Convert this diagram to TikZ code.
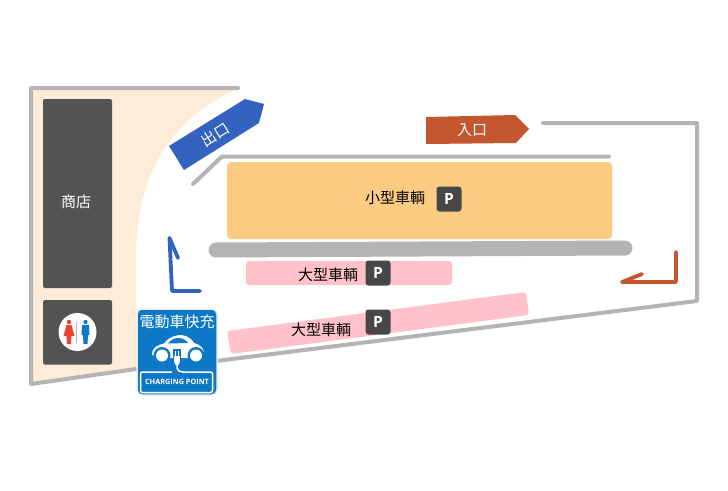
\documentclass[tikz,border=0pt]{standalone}
\usepackage{fontspec}
\setmainfont{Noto Sans CJK JP}
\newfontfamily\latinf{Open Sans}
\definecolor{wallgray}{HTML}{B4B4B4}
\definecolor{shopfill}{HTML}{FDECD8}
\definecolor{darkbox}{HTML}{535353}
\definecolor{orangelot}{HTML}{FACB80}
\definecolor{pinklot}{HTML}{FFC2CB}
\definecolor{exitblue}{HTML}{3463BF}
\definecolor{entryred}{HTML}{C4562F}
\definecolor{pbox}{HTML}{474747}
\definecolor{evblue}{HTML}{0D79C6}
\definecolor{womanred}{HTML}{EA4335}
\tikzset{
  x=1pt,y=-1pt,
  wall/.style={draw=wallgray,line width=4pt,line cap=round,line join=round},
  dark/.style={fill=darkbox,rounded corners=2pt},
  lbl/.style={font=\fontsize{15}{15}\selectfont,inner sep=0pt,text=black},
  wlbl/.style={font=\fontsize{15}{15}\selectfont,inner sep=0pt,text=white},
  pmark/.style={fill=pbox,rounded corners=3pt,minimum size=25pt,inner sep=0pt,text=white,font=\latinf\bfseries\fontsize{15.5}{15.5}\selectfont},
  bluearrow/.style={draw=exitblue,line width=3.8pt,line cap=round,line join=round},
  redarrow/.style={draw=entryred,line width=3.8pt,line cap=round,line join=round},
}
\begin{document}
\begin{tikzpicture}
\useasboundingbox (0,0) rectangle (728,490);
\fill[white] (0,0) rectangle (728,490);
% site fill
\fill[shopfill] (31,88) -- (238,88) .. controls (205,105) and (135,140) .. (136,260) -- (136,368) -- (31,384) -- cycle;
\draw[wall] (238,88) -- (31,88) -- (31,384) -- (136,369);
\draw[wall] (216,361) -- (697,301) -- (697,123) -- (543,123);
\draw[wall] (193,184) -- (222,156.5) -- (609,156.5);
\draw[draw=wallgray,line width=15pt,line cap=round] (216,250) -- (625,248);
% lots
\node[dark,minimum width=69pt,minimum height=189pt,inner sep=0pt] (shop) at (77.5,193.5) {};
\node[wlbl] (shoplbl) at (76,202) {商店};
\node[dark,minimum width=69pt,minimum height=64.5pt,inner sep=0pt] (wc) at (77.5,332.3) {};
\fill[orangelot,rounded corners=4pt] (227,162) rectangle (612,239);
\fill[pinklot,rounded corners=3pt] (246,261) rectangle (452,285);
\fill[pinklot,rounded corners=3pt] (227,331) -- (526,292) -- (529,315) -- (231,354) -- cycle;
% labels
\node[lbl] (small) at (395,198) {小型車輌};
\node[pmark] (p1) at (449,199) {P};
\node[lbl] (big1) at (328,275) {大型車輌};
\node[pmark] (p2) at (378,273) {P};
\node[lbl] (big2) at (321,330) {大型車輌};
\node[pmark] (p3) at (378,322) {P};
% exit
\fill[exitblue] (169,146) -- (245,99) -- (264,104) -- (259,123) -- (184,170) -- cycle;
\node[wlbl,rotate=32] (exit) at (215,135) {出口};
% entry
\fill[entryred] (426,117) -- (515,115) -- (529,129) -- (516,143) -- (426,144) -- cycle;
\node[wlbl] (entry) at (472,130) {入口};
% road arrows
\draw[bluearrow] (169.5,238) -- (172,291) -- (200,291);
\draw[bluearrow] (169.5,238) -- (178,258);
\draw[redarrow] (676,252) -- (676,282) -- (622,282) -- (642,274);
% WC icon
\fill[white] (77.5,332) circle (19);
\fill[wallgray] (76.2,322) rectangle (77.4,343);
\fill[womanred] (69,322) circle (2.2);
\fill[womanred] (66.5,325) -- (71.5,325) -- (74.5,336) -- (71.5,336) -- (71,344) -- (67,344) -- (66.5,336) -- (63.5,336) -- cycle;
\fill[evblue] (85.5,322) circle (2.2);
\fill[evblue] (82,325) -- (89,325) -- (89.5,335) -- (88,335) -- (87.5,344) -- (83.5,344) -- (83,335) -- (81.5,335) -- cycle;
% EV sign
\fill[evblue,draw=gray!15,line width=1.5pt,rounded corners=5pt] (137,309) rectangle (217,395);
\node[font=\fontsize{15}{15}\selectfont,inner sep=0pt,text=white] (evt) at (177,322) {電動車快充};
% car
\fill[white] (152,355) .. controls (152,347) and (158,345) .. (164,343.5) .. controls (170,335) and (186,330) .. (194,343) .. controls (201,345) and (205,349) .. (204,356) -- (190,358) -- (166,358) -- cycle;
\fill[evblue] (168,343.5) .. controls (173,336.5) and (183,336) .. (188,343) -- cycle;
\fill[evblue] (162,355.5) circle (8.5);
\fill[white] (162,355.5) circle (6);
\fill[evblue] (196,355.5) circle (8.5);
\fill[white] (196,355.5) circle (6);
\fill[evblue] (173,349) rectangle (181,366);
\fill[white] (174.7,351) rectangle (175.8,356);
\fill[white] (178.2,351) rectangle (179.3,356);
\fill[white] (174.2,356) -- (179.8,356) -- (179.8,362) -- (178.5,365) -- (175.5,365) -- (174.2,362) -- cycle;
\draw[white,line width=1.5pt,rounded corners=2pt] (177,364) -- (177,370) -- (181,372) -- (212.5,372) -- (212.5,392.5) -- (140.5,392.5) -- (140.5,372) -- (172,372);
\node[font=\latinf\bfseries\fontsize{7.3}{7.3}\selectfont,inner sep=0pt,text=white] (evc) at (177,382) {CHARGING POINT};
\end{tikzpicture}
\end{document}
